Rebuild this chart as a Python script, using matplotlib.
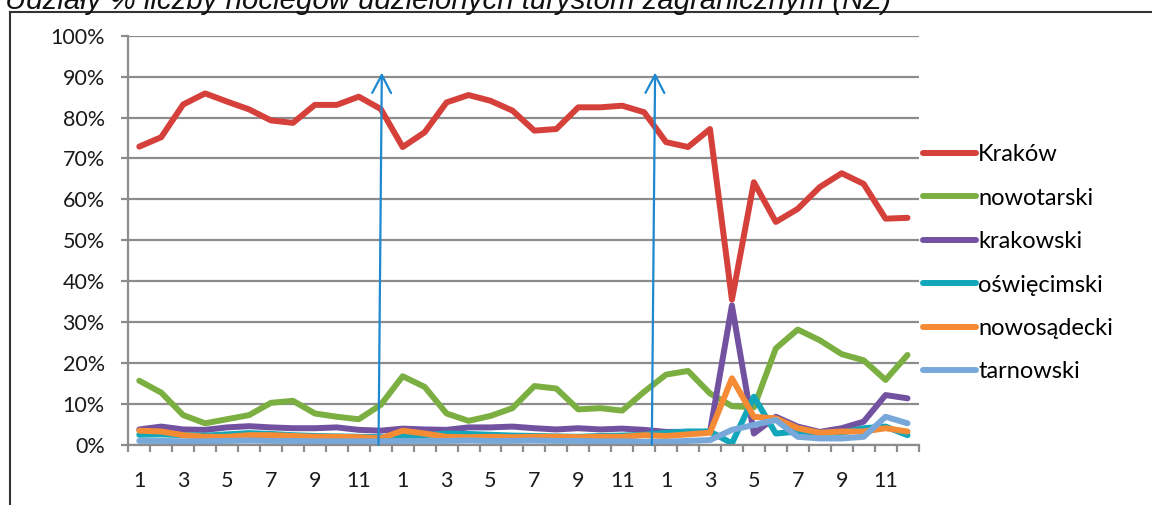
import numpy as np
import matplotlib
matplotlib.use("Agg")
import matplotlib.pyplot as plt
from matplotlib.lines import Line2D

# monthly shares (%) of foreign tourists' overnight stays, 3 years x 12 months
months = list(range(1, 13)) * 3
tick_labels = ["1", "3", "5", "7", "9", "11"] * 3

krakow = [72.9, 75.2, 83.2, 85.9, 83.9, 82.0, 79.3, 78.7, 83.1, 83.1, 85.1, 82.1,
          72.8, 76.4, 83.7, 85.5, 84.1, 81.7, 76.8, 77.2, 82.5, 82.5, 82.9, 81.3,
          74.0, 72.8, 77.2, 35.5, 64.2, 54.5, 57.7, 63.0, 66.4, 63.8, 55.3, 55.5]
nowotarski = [15.7, 12.8, 7.3, 5.3, 6.3, 7.3, 10.3, 10.8, 7.7, 6.9, 6.3, 9.8,
              16.8, 14.2, 7.7, 5.9, 7.1, 9.0, 14.4, 13.8, 8.7, 9.0, 8.4, 13.0,
              17.2, 18.1, 12.6, 9.5, 9.2, 23.6, 28.2, 25.6, 22.2, 20.7, 15.9, 22.0]
krakowski = [3.8, 4.5, 3.8, 3.7, 4.3, 4.6, 4.3, 4.1, 4.1, 4.3, 3.7, 3.5,
             4.0, 3.8, 3.7, 4.3, 4.3, 4.5, 4.1, 3.8, 4.1, 3.8, 4.0, 3.7,
             3.2, 3.2, 3.2, 34.1, 2.8, 6.9, 4.5, 3.2, 4.1, 5.7, 12.2, 11.4]
oswiecimski = [2.5, 2.6, 2.4, 2.3, 2.6, 2.9, 2.7, 2.4, 2.2, 2.1, 2.0, 1.9,
               2.3, 2.4, 2.8, 2.7, 2.5, 2.3, 2.2, 2.1, 2.0, 2.2, 2.3, 2.5,
               3.0, 3.3, 3.3, 0.4, 11.8, 2.8, 3.3, 3.0, 3.0, 4.1, 4.5, 2.4]
nowosadecki = [3.5, 3.3, 2.4, 2.0, 2.0, 2.4, 2.4, 2.2, 2.0, 2.0, 1.9, 1.6,
               3.5, 2.8, 2.0, 1.9, 2.0, 1.9, 2.0, 2.0, 1.9, 2.0, 2.0, 2.4,
               2.2, 2.6, 3.0, 16.3, 6.9, 6.5, 4.1, 3.0, 3.3, 3.3, 4.1, 3.3]
tarnowski = [1.0, 1.0, 0.9, 0.9, 1.0, 1.1, 1.0, 1.0, 0.9, 0.9, 0.9, 0.9,
             1.0, 1.0, 1.0, 1.1, 1.0, 1.0, 1.1, 1.0, 1.0, 0.9, 0.9, 0.8,
             0.8, 1.0, 1.2, 3.7, 4.9, 6.1, 2.0, 1.6, 1.6, 2.0, 6.9, 5.3]

series_names = ["Kraków", "nowotarski", "krakowski", "oświęcimski", "nowosądecki", "tarnowski"]
series_values = [krakow, nowotarski, krakowski, oswiecimski, nowosadecki, tarnowski]
colors = ["#D5403A", "#7CAF42", "#7252A0", "#12A6BA", "#F68B35", "#78A8DA"]

title = "Udziały % liczby noclegów udzielonych turystom zagranicznym (NZ)"

W, H = 1152, 505
fig = plt.figure(figsize=(W / 100, H / 100), dpi=100)
fig.patch.set_facecolor("white")
ax = fig.add_axes([128.3 / W, 1 - 445 / H, (918.5 - 128.3) / W, (445 - 35.7) / H])

x = np.arange(len(months))
for name, vals, col in zip(series_names, series_values, colors):
    ax.plot(x, vals, color=col, lw=4.3, label=name,
            solid_capstyle="round", solid_joinstyle="round")

# arrows marking the turn of the year
arrow_kw = dict(arrowstyle="->,head_length=1.3,head_width=0.68",
                color="#1E88D0", lw=1.6, shrinkA=0, shrinkB=0)
ax.annotate("", xy=(11.05, 91), xytext=(10.9, 0), arrowprops=arrow_kw)
ax.annotate("", xy=(23.5, 91), xytext=(23.35, 0), arrowprops=arrow_kw)

grid_col = "#8C8C8C"
ax.set_xlim(-0.5, 35.5)
ax.set_ylim(0, 100)
ax.set_yticks(range(0, 101, 10))
ax.set_yticklabels([f"{v}%" for v in range(0, 101, 10)])
ax.yaxis.grid(True, color=grid_col, lw=1.6)
ax.set_axisbelow(True)
for s in ["top", "right"]:
    ax.spines[s].set_visible(False)
for s in ["left", "bottom"]:
    ax.spines[s].set_color(grid_col)
    ax.spines[s].set_linewidth(1.6)

ax.set_xticks(x[::2])
ax.set_xticklabels(tick_labels)
ax.set_xticks(np.arange(-0.5, 36, 1), minor=True)
ax.tick_params(axis="x", which="major", length=0, pad=19)
ax.tick_params(axis="x", which="minor", length=5, width=1.6, color=grid_col)
ax.tick_params(axis="y", length=5, width=1.6, color=grid_col, pad=12)
for lab in ax.get_xticklabels() + ax.get_yticklabels():
    lab.set_family("Lato")
    lab.set_fontsize(15.5)
    lab.set_color("#1a1a1a")

ax.legend(loc="center left", bbox_to_anchor=(923 / W, 1 - 263.3 / H),
          bbox_transform=fig.transFigure, frameon=False, borderpad=0,
          borderaxespad=0, handlelength=2.25, handletextpad=0.08,
          labelspacing=0.95, prop={"family": "Lato", "size": 17})

# chart frame (partly cut off) and title above it
fig.add_artist(Line2D([10 / W, 10 / W], [0, 1 - 12 / H], transform=fig.transFigure,
                      color="#333333", lw=1.5))
fig.add_artist(Line2D([10 / W, 1], [1 - 12 / H, 1 - 12 / H], transform=fig.transFigure,
                      color="#333333", lw=1.5))
fig.text(5 / W, 1 - 9 / H, title, family="Liberation Sans", style="italic",
         fontsize=21.2, va="baseline", ha="left", color="#111111")

fig.savefig("out.png", dpi=100)
